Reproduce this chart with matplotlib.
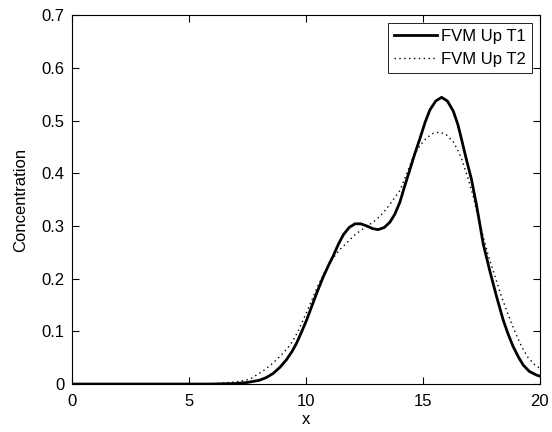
import matplotlib
matplotlib.use("Agg")
from matplotlib import pyplot as plt

plt.rcParams['font.family'] = ['Liberation Sans', 'DejaVu Sans']

# concentration profile at time T1
x_t1 = [0, 6, 7, 7.5, 8, 8.3, 8.6, 8.9, 9.17, 9.4, 9.6, 9.8, 10.03, 10.25,
        10.46, 10.74, 11.0, 11.17, 11.4, 11.6, 11.85, 12.1, 12.35, 12.6, 12.85,
        13.09, 13.35, 13.59, 13.8, 14.02, 14.2, 14.44, 14.65, 14.87, 15.1,
        15.3, 15.55, 15.8, 16.05, 16.3, 16.5, 16.65, 16.85, 17.08, 17.3,
        17.58, 17.86, 18.15, 18.43, 18.65, 18.86, 19.1, 19.29, 19.55, 19.86,
        20]
c_t1 = [0, 0, 0.001, 0.003, 0.007, 0.012, 0.020, 0.032, 0.046, 0.061, 0.077,
        0.097, 0.121, 0.147, 0.172, 0.203, 0.228, 0.243, 0.266, 0.283, 0.297,
        0.304, 0.304, 0.300, 0.295, 0.293, 0.297, 0.307, 0.322, 0.345, 0.372,
        0.406, 0.436, 0.465, 0.497, 0.520, 0.537, 0.544, 0.537, 0.518, 0.492,
        0.465, 0.428, 0.388, 0.338, 0.266, 0.215, 0.166, 0.122, 0.094, 0.071,
        0.050, 0.036, 0.024, 0.017, 0.015]

# concentration profile at time T2
x_t2 = [0, 5.5, 6, 6.5, 7, 7.6, 8.18, 8.5, 8.89, 9.2, 9.46, 9.7, 9.88, 10.17,
        10.5, 10.88, 11.15, 11.45, 11.75, 12.02, 12.3, 12.6, 12.9, 13.16,
        13.4, 13.59, 14.02, 14.3, 14.59, 14.87, 15.16, 15.45, 15.73, 16.0,
        16.3, 16.5, 16.65, 16.94, 17.15, 17.35, 17.58, 17.8, 18.0, 18.36,
        18.79, 19.0, 19.22, 19.5, 19.79, 20]
c_t2 = [0, 0, 0.001, 0.002, 0.004, 0.009, 0.025, 0.036, 0.052, 0.067, 0.083,
        0.103, 0.121, 0.150, 0.185, 0.218, 0.238, 0.255, 0.268, 0.280, 0.290,
        0.299, 0.308, 0.318, 0.330, 0.341, 0.367, 0.398, 0.431, 0.452, 0.467,
        0.476, 0.478, 0.473, 0.460, 0.443, 0.428, 0.389, 0.357, 0.318, 0.280,
        0.243, 0.216, 0.166, 0.115, 0.093, 0.071, 0.050, 0.036, 0.030]

fig = plt.figure(figsize=(5.52, 4.32), dpi=100)
ax = fig.add_axes([0.130, 0.111, 0.848, 0.854])

ax.plot(x_t1, c_t1, color='black', linewidth=2, label='FVM Up T1',
        solid_joinstyle='round')
ax.plot(x_t2, c_t2, color='black', linewidth=1, linestyle=(0, (1, 2.5)),
        label='FVM Up T2')

ax.set_xlim(0, 20)
ax.set_ylim(0, 0.7)
ax.set_xticks([0, 5, 10, 15, 20])
ax.set_yticks([0, 0.1, 0.2, 0.3, 0.4, 0.5, 0.6, 0.7])
ax.set_yticklabels(['0', '0.1', '0.2', '0.3', '0.4', '0.5', '0.6', '0.7'])
ax.tick_params(direction='in', top=True, right=True, length=5, width=0.8,
               labelsize=12)
ax.tick_params(axis='x', pad=7)
ax.tick_params(axis='y', pad=5)
for s in ax.spines.values():
    s.set_linewidth(0.8)

ax.set_xlabel('x', fontsize=12, labelpad=2)
ax.set_ylabel('Concentration', fontsize=12, labelpad=10)

leg = ax.legend(loc='upper right', fontsize=12, fancybox=False,
                edgecolor='black', framealpha=1, borderpad=0.35,
                handlelength=2.6, handletextpad=0.2, labelspacing=0.45,
                borderaxespad=0.5)
leg.get_frame().set_linewidth(0.6)

fig.savefig('out.png', dpi=100)
